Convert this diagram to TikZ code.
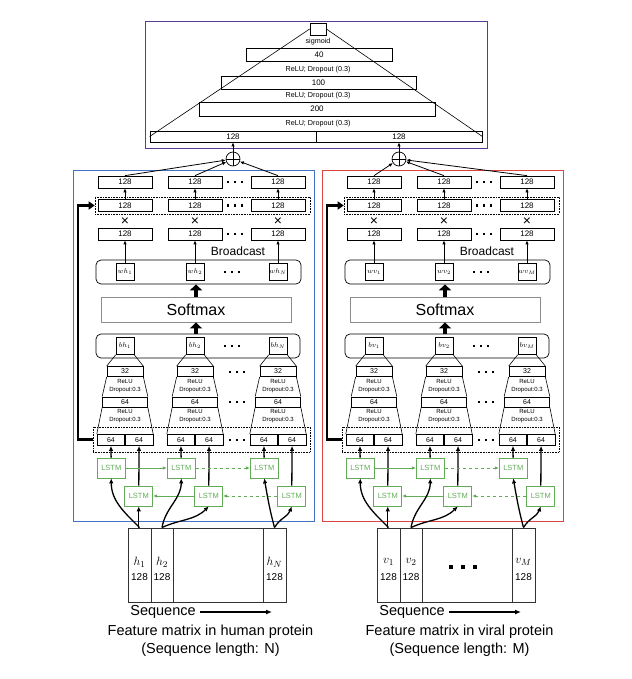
\documentclass[tikz,border=0pt]{standalone}
\usepackage{fontspec}
\setmainfont{Liberation Sans}
\usetikzlibrary{arrows.meta,positioning}

\definecolor{headc}{RGB}{88,60,150}
\definecolor{humanc}{RGB}{68,114,196}
\definecolor{viralc}{RGB}{222,66,66}
\definecolor{lstmc}{RGB}{98,172,88}

\newcommand{\threedots}[1]{\rule{#1}{#1}\hspace{#1}\hspace{#1}\rule{#1}{#1}\hspace{#1}\hspace{#1}\rule{#1}{#1}}

\begin{document}
\begin{tikzpicture}[x=1pt,y=-1pt,
  layer/.style={draw,line width=0.7pt,inner sep=0pt,minimum height=12pt,font=\fontsize{8}{8}\selectfont},
  note/.style={inner sep=0pt,font=\fontsize{7.2}{8}\selectfont},
  drop/.style={inner sep=0pt,align=center,font=\fontsize{6}{8}\selectfont},
  wgt/.style={draw,line width=0.6pt,inner sep=0pt,minimum width=18pt,minimum height=17pt,font=\fontsize{7}{7}\selectfont},
  lstm/.style={draw=lstmc,text=lstmc,line width=0.7pt,inner sep=0pt,minimum width=28pt,minimum height=20pt,font=\fontsize{7.5}{8}\selectfont},
  frame/.style={draw,line width=0.7pt,rounded corners=5pt,inner sep=0pt},
  dotbox/.style={draw,densely dotted,line width=0.6pt,inner sep=0pt},
  col/.style={draw=black!80,line width=0.9pt,inner sep=0pt,minimum height=74pt},
  arr/.style={-{Latex[length=4pt,width=3.5pt]},line width=0.8pt},
  bigarr/.style={-{Latex[length=5pt,width=4.5pt]},line width=1.3pt},
  garr/.style={-{Latex[length=4pt,width=3.5pt]},draw=lstmc,line width=0.8pt},
  fat/.style={line width=4.5pt,-{Triangle[width=12pt,length=6pt]}},
  feedback/.style={line width=2.4pt,-{Triangle[width=8pt,length=6pt]}},
  capt/.style={inner sep=0pt,align=center,font=\fontsize{14.5}{18}\selectfont}]
  \useasboundingbox (0,0) rectangle (631,679);

  % output head
  \draw[headc,line width=0.8pt] (145,21) rectangle (487,148);
  \node[layer,minimum width=16pt] (sig) at (318,29) {};
  \node[note] (sigt) at (318,42) {sigmoid};
  \node[layer,minimum width=146pt,minimum height=13pt] (d40) at (319,54.5) {40};
  \node[note] (act1) at (318,70) {ReLU; Dropout (0.3)};
  \node[layer,minimum width=195pt,minimum height=13pt] (d100) at (318.5,82.5) {100};
  \node[note] (act2) at (318,96) {ReLU; Dropout (0.3)};
  \node[layer,minimum width=236pt,minimum height=14pt] (d200) at (317,109) {200};
  \node[note] (act3) at (318,124) {ReLU; Dropout (0.3)};
  \node[layer,minimum width=166pt,minimum height=11pt] (htop) at (233,136.5) {128};
  \node[layer,minimum width=166pt,minimum height=11pt] (vtop) at (399,136.5) {128};
  \draw[line width=0.6pt] (sig.west) -- (htop.west);
  \draw[line width=0.6pt] (sig.east) -- (vtop.east);

  % sums
  \foreach \p/\x in {h/233,v/399}{
    \node[circle,draw,line width=0.7pt,minimum size=14pt,inner sep=0pt] (\p sum) at (\x,159) {};
    \draw[line width=0.7pt] (\p sum.north) -- (\p sum.south) (\p sum.west) -- (\p sum.east);
    \draw[arr] (\p sum) -- (\p top);
  }

  % human and viral branches
  \foreach \p/\dx/\pc/\nn/\who in {h/0/humanc/N/human,v/249/viralc/M/viral}{
  \begin{scope}[xshift=\dx pt]
    \draw[\pc,line width=0.9pt] (73,170) rectangle (314,521);
    \node[dotbox,minimum width=215pt,minimum height=17pt] (\p mf) at (202.5,205.5) {};
    \node[dotbox,minimum width=217pt,minimum height=25pt] (\p lf) at (201.5,439.5) {};
    \node[frame,minimum width=205pt,minimum height=24pt] (\p wbox) at (198.5,272) {};
    \node[draw=black!45,line width=0.8pt,inner sep=0pt,minimum width=190pt,minimum height=25pt,font=\fontsize{16}{16}\selectfont] (\p soft) at (196,309.5) {Softmax};
    \node[frame,minimum width=204pt,minimum height=24pt] (\p bbox) at (198,346) {};
    \node[inner sep=0pt,font=\fontsize{12}{12}\selectfont] (\p bc) at (238,251) {Broadcast};

    \foreach \k/\cx/\s in {1/125/1,2/195/2,3/278/\nn}{
      \node[layer,minimum width=54pt] (\p o\k) at (\cx,182) {128};
      \node[layer,minimum width=54pt] (\p m\k) at (\cx,205.5) {128};
      \node[font=\fontsize{14}{14}\selectfont,inner sep=0pt] (\p x\k) at (\cx,222) {×};
      \node[layer,minimum width=54pt] (\p b\k) at (\cx,234) {128};
      \node[wgt] (\p w\k) at (\cx,272) {$w\p_{\s}$};
      \node[wgt] (\p q\k) at (\cx,346) {$b\p_{\s}$};
      \node[layer,minimum width=36pt,minimum height=10pt,font=\fontsize{7}{7}\selectfont] (\p t\k) at (\cx,371.5) {32};
      \node[drop] (\p ra\k) at (\cx,386) {ReLU\\Dropout:0.3};
      \node[layer,minimum width=45pt,minimum height=10pt,font=\fontsize{7}{7}\selectfont] (\p s\k) at (\cx,402) {64};
      \node[drop] (\p rb\k) at (\cx,416) {ReLU\\Dropout:0.3};
      \node[layer,minimum width=27.5pt,minimum height=11pt,font=\fontsize{7}{7}\selectfont,anchor=east] (\p l\k) at (\cx,440) {64};
      \node[layer,minimum width=27.5pt,minimum height=11pt,font=\fontsize{7}{7}\selectfont,anchor=west] (\p r\k) at (\cx,440) {64};
      \node[lstm] (\p f\k) at (\cx-13.75,468) {LSTM};
      \node[lstm] (\p g\k) at (\cx+13.75,496) {LSTM};
      \draw[line width=0.6pt] (\p q\k.south west) -- (\p t\k.north west) (\p t\k.south west) -- (\p s\k.north west) (\p s\k.south west) -- (\p l\k.north west);
      \draw[line width=0.6pt] (\p q\k.south east) -- (\p t\k.north east) (\p t\k.south east) -- (\p s\k.north east) (\p s\k.south east) -- (\p r\k.north east);
      \draw[arr] (\p m\k) -- (\p o\k);
      \draw[arr] (\p w\k) -- (\p b\k);
      \draw[bigarr] (\p f\k) -- (\p l\k);
      \draw[bigarr] (\p g\k) -- (\p r\k);
      \draw[arr] (\p o\k.north) -- (\p sum);
    }
    \foreach \x/\y [count=\j] in {235/182,235/205.5,235/234,232/272,232/346,237/372,237/402,237/440}
      \node[inner sep=0pt] (\p d\j) at (\x,\y) {\threedots{2.4pt}};

    % recurrent links
    \draw[garr] (\p f1) -- (\p f2);
    \draw[garr,dashed] (\p f2) -- (\p f3);
    \draw[garr,dashed] (\p g3) -- (\p g2);
    \draw[garr] (\p g2) -- (\p g1);

    \draw[feedback] (\p lf.west) -- ++(-15,0) |- (\p mf.west);
    \draw[fat] (\p soft.south |- \p bbox.north) -- (\p soft.south);
    \draw[fat] (\p soft.north) -- (\p soft.north |- \p wbox.south);

    % feature matrix
    \node[draw=black!80,line width=0.9pt,inner sep=0pt,minimum width=158pt,minimum height=74pt] (\p mat) at (207,565) {};
    \foreach \k/\cx/\w/\s in {1/139.5/23/1,2/162/22/2,3/274.5/23/\nn}{
      \node[col,minimum width=\w pt] (\p c\k) at (\cx,565) {};
      \node[inner sep=0pt,font=\fontsize{13}{13}\selectfont] (\p n\k) at (\cx,562) {$\p_{\s}$};
      \node[inner sep=0pt,font=\fontsize{10}{10}\selectfont] (\p e\k) at (\cx,577) {128};
    }
    \draw[bigarr] (\p g1.south |- \p c1.north) -- (\p g1.south);
    \draw[bigarr] (\p c1.north) to[out=135,in=-90] (\p f1.south);
    \draw[bigarr] (\p c2.north) to[out=80,in=-90] (\p f2.south);
    \draw[bigarr] (\p c2.north) to[out=25,in=-135] (\p g2.south);
    \draw[bigarr] (\p c3.north) to[out=105,in=-80] (\p f3.south);
    \draw[bigarr] (\p c3.north) to[out=60,in=-110] (\p g3.south);

    \node[capt] (\p seq) at (163,612) {Sequence};
    \coordinate (\p seqend) at (272,612);
    \draw[-{Latex[length=6pt,width=5pt]},line width=1.6pt] ([xshift=4pt]\p seq.east) -- (\p seqend);
    \node[capt] (\p cap) at (210.5,641) {Feature matrix in \who\ protein\\(Sequence length: \nn)};
  \end{scope}
  }
  \node[inner sep=0pt] (vdots) at (463,567) {\threedots{4pt}};
\end{tikzpicture}
\end{document}
